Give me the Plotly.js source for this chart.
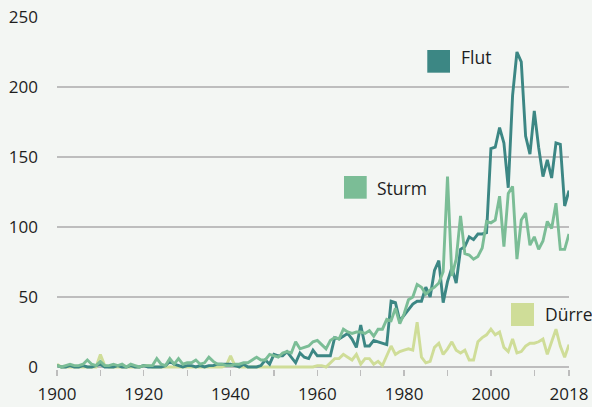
<!DOCTYPE html>
<html>
<head>
<meta charset="utf-8">
<script src="https://cdn.plot.ly/plotly-3.0.1.min.js"></script>
<style>
  html, body { margin: 0; padding: 0; background: #f3f6f3; }
  #chart { width: 592px; height: 407px; }
</style>
</head>
<body>
<div id="chart"></div>
<script>
// Years 1900 .. 2018, one value per year
const START_YEAR = 1900;
const END_YEAR = 2018;

const seriesNames = ["Flut", "Sturm", "Dürre"];

const flut = [
  1, 0, 0, 1, 0, 0, 1, 0, 0, 1,        // 1900-1909
  2, 0, 0, 0, 1, 0, 0, 1, 0, 0,        // 1910-1919
  1, 0, 0, 0, 0, 1, 4, 2, 1, 0,        // 1920-1929
  1, 1, 0, 1, 0, 1, 1, 2, 2, 2,        // 1930-1939
  2, 1, 0, 2, 0, 0, 0, 1, 5, 2,        // 1940-1949
  9, 8, 8, 11, 7, 3, 10, 7, 6, 12,     // 1950-1959
  8, 8, 8, 8, 21, 20, 22, 24, 20, 14,  // 1960-1969
  30, 15, 15, 19, 18, 17, 16, 47, 46, 33, // 1970-1979
  37, 41, 45, 47, 47, 57, 50, 69, 76, 46, // 1980-1989
  61, 71, 60, 84, 86, 93, 91, 95, 95, 96, // 1990-1999
  156, 157, 171, 160, 128, 194, 225, 218, 165, 152, // 2000-2009
  183, 157, 136, 148, 135, 160, 159, 115, 126       // 2010-2018
];

const sturm = [
  1, 0, 1, 2, 1, 1, 2, 5, 2, 1,        // 1900-1909
  4, 1, 1, 2, 1, 2, 0, 2, 1, 0,        // 1910-1919
  1, 1, 1, 6, 2, 1, 6, 2, 6, 2,        // 1920-1929
  3, 3, 5, 2, 3, 7, 4, 2, 2, 1,        // 1930-1939
  1, 2, 2, 3, 3, 5, 7, 5, 5, 9,        // 1940-1949
  8, 7, 10, 11, 10, 18, 13, 14, 15, 18, // 1950-1959
  19, 16, 13, 19, 21, 20, 27, 25, 24, 25, // 1960-1969
  25, 24, 26, 22, 27, 27, 34, 33, 42, 31, // 1970-1979
  38, 48, 50, 59, 57, 52, 55, 57, 60, 68, // 1980-1989
  136, 65, 77, 108, 81, 80, 77, 79, 85, 104, // 1990-1999
  103, 105, 122, 86, 124, 129, 77, 105, 110, 87, // 2000-2009
  93, 84, 90, 104, 99, 117, 84, 84, 95            // 2010-2018
];

const duerre = [
  2, 0, 0, 0, 0, 0, 0, 0, 0, 0,        // 1900-1909
  9, 1, 0, 0, 0, 0, 0, 0, 0, 0,        // 1910-1919
  1, 1, 0, 0, 0, 0, 0, 0, 0, 0,        // 1920-1929
  0, 0, 0, 0, 0, 0, 0, 0, 0, 1,        // 1930-1939
  8, 1, 0, 0, 0, 0, 0, 0, 0, 0,        // 1940-1949
  0, 0, 0, 0, 0, 0, 0, 0, 0, 0,        // 1950-1959
  1, 1, 0, 3, 6, 6, 9, 7, 5, 9,        // 1960-1969
  2, 6, 6, 2, 4, 1, 8, 15, 9, 11,      // 1970-1979
  12, 13, 12, 32, 7, 3, 4, 14, 17, 9,  // 1980-1989
  13, 18, 12, 10, 12, 5, 5, 18, 21, 23, // 1990-1999
  27, 23, 25, 14, 11, 20, 10, 11, 15, 17, // 2000-2009
  17, 18, 20, 9, 18, 27, 15, 7, 16        // 2010-2018
];

const xTickVals  = [1900, 1910, 1920, 1930, 1940, 1950, 1960, 1970, 1980, 1990, 2000, 2010, 2018];
const xTickText  = ["1900", "", "1920", "", "1940", "", "1960", "", "1980", "", "2000", "", "2018"];
const yTickVals  = [0, 50, 100, 150, 200, 250];
const yTickText  = ["0", "50", "100", "150", "200", "250"];

const colors = { "Flut": "#3c8784", "Sturm": "#7bbd96", "Dürre": "#cfdd98" };
const BG = "#f3f6f3";
const FONT = "'Open Sans', 'Noto Sans', sans-serif";
const TEXT = "#1e1e1e";

function lineTrace(name, values) {
  return {
    type: "scatter", mode: "lines", name: name,
    x0: START_YEAR, dx: 1, y: values,
    line: { color: colors[name], width: 2.9, shape: "linear" },
    hoverinfo: "skip"
  };
}

const data = [
  lineTrace("Dürre", duerre),
  lineTrace("Flut", flut),
  lineTrace("Sturm", sturm)
];

// legend swatches (paper coords) and labels
const legendItems = [
  { name: "Flut",  sq: [0.7232, 0.7676, 0.8418, 0.9063], tx: 0.786, ty: 0.8864 },
  { name: "Sturm", sq: [0.5605, 0.6049, 0.4838, 0.5483], tx: 0.622, ty: 0.5151 },
  { name: "Dürre", sq: [0.8867, 0.9316, 0.1222, 0.1875], tx: 0.949, ty: 0.1563 }
];

const shapes = legendItems.map(it => ({
  type: "rect", xref: "paper", yref: "paper",
  x0: it.sq[0], x1: it.sq[1], y0: it.sq[2], y1: it.sq[3],
  fillcolor: colors[it.name], line: { width: 0 }
}));

const annotations = legendItems.map(it => ({
  xref: "paper", yref: "paper", x: it.tx, y: it.ty,
  xanchor: "left", yanchor: "middle", showarrow: false,
  text: it.name, font: { family: FONT, size: 17.5, color: TEXT }
}));

const layout = {
  width: 592, height: 407,
  margin: { l: 57, r: 23, t: 17, b: 38, pad: 0 },
  paper_bgcolor: BG, plot_bgcolor: BG,
  showlegend: false, hovermode: false,
  font: { family: FONT, size: 17, color: TEXT },
  xaxis: {
    range: [START_YEAR, END_YEAR],
    tickmode: "array", tickvals: xTickVals, ticktext: xTickText,
    showgrid: false, zeroline: false, showline: false,
    ticks: "outside", ticklen: 6, tickwidth: 1.3, tickcolor: "#bdbdbd",
    ticklabelstandoff: 4,
    tickfont: { family: FONT, size: 17, color: TEXT },
    fixedrange: true
  },
  yaxis: {
    range: [-1.43, 250],
    tickmode: "array", tickvals: yTickVals, ticktext: yTickText,
    showgrid: true, gridcolor: "#bdbdbd", gridwidth: 1.3,
    zeroline: false, showline: false, ticks: "",
    ticklabelstandoff: 18,
    tickfont: { family: FONT, size: 17, color: TEXT },
    fixedrange: true
  },
  shapes: shapes,
  annotations: annotations
};

Plotly.newPlot("chart", data, layout, { displayModeBar: false, staticPlot: true });
</script>
</body>
</html>
